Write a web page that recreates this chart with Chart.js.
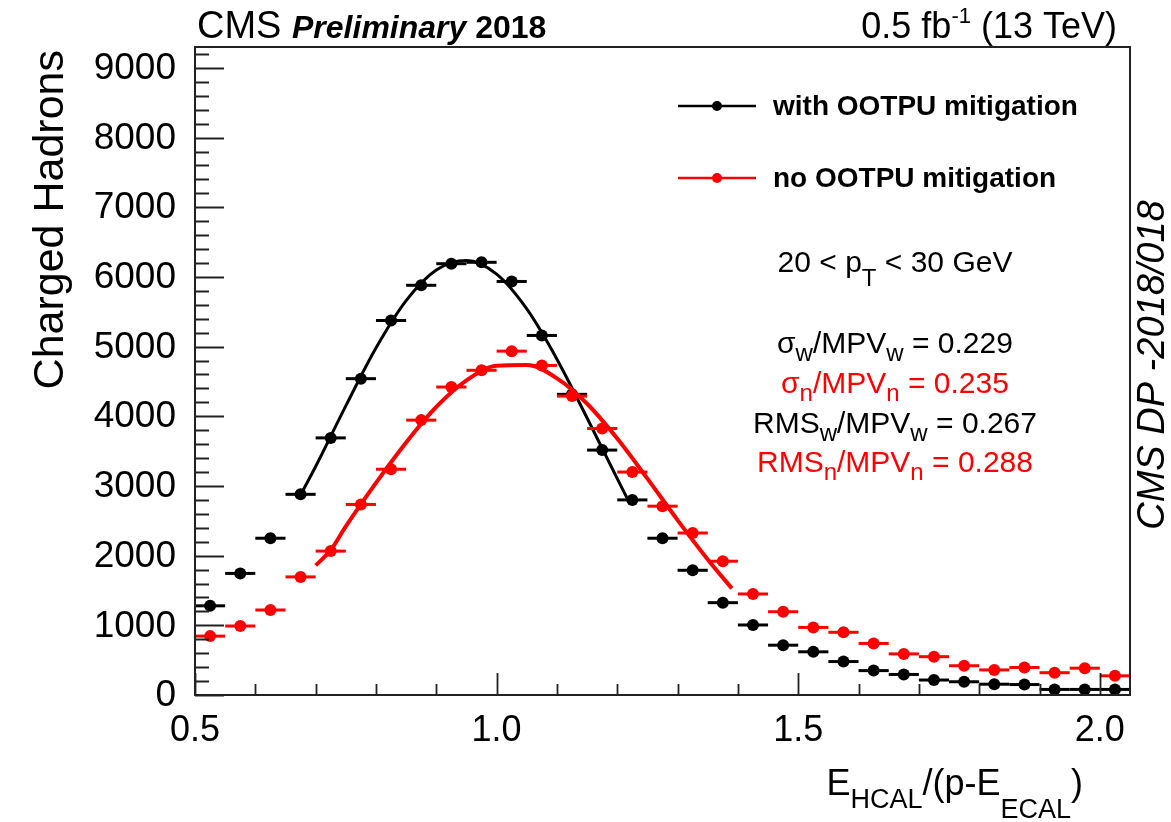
<!DOCTYPE html>
<html>
<head>
<meta charset="utf-8">
<script src="https://cdn.jsdelivr.net/npm/chart.js@4.4.1/dist/chart.umd.min.js"></script>
<style>
  html, body { margin: 0; padding: 0; background: #fff; }
  #wrap { width: 1171px; height: 822px; }
</style>
</head>
<body>
<div id="wrap"><canvas id="hadrons" width="1171" height="822"></canvas></div>
<script>
// bin centres, bins are 0.05 wide
const binCenters = [0.525, 0.575, 0.625, 0.675, 0.725, 0.775, 0.825, 0.875, 0.925, 0.975,
  1.025, 1.075, 1.125, 1.175, 1.225, 1.275, 1.325, 1.375, 1.425, 1.475,
  1.525, 1.575, 1.625, 1.675, 1.725, 1.775, 1.825, 1.875, 1.925, 1.975, 2.025];

const withMitigation = [1280, 1745, 2250, 2880, 3690, 4540, 5375, 5880, 6190, 6210,
  5935, 5160, 4315, 3515, 2800, 2250, 1790, 1325, 1005, 715,
  620, 480, 350, 295, 215, 190, 155, 150, 80, 80, 80];

const noMitigation = [845, 990, 1220, 1695, 2065, 2735, 3240, 3945, 4420, 4660,
  4935, 4730, 4290, 3825, 3200, 2710, 2325, 1920, 1450, 1195,
  970, 900, 740, 590, 550, 420, 360, 395, 320, 385, 275];

// fitted curves
const fitWithX = [0.675, 0.70, 0.75, 0.80, 0.85, 0.90, 0.95, 1.00, 1.05, 1.10, 1.15, 1.20, 1.22];
const fitWithY = [2870, 3280, 4150, 4980, 5660, 6100, 6235, 6040, 5540, 4820, 3975, 3105, 2760];

const fitNoX = [0.70, 0.725, 0.75, 0.80, 0.85, 0.90, 0.95, 1.00, 1.05, 1.10, 1.15, 1.20, 1.25, 1.30, 1.35, 1.39];
const fitNoY = [1860, 2080, 2420, 3045, 3625, 4135, 4515, 4725, 4735, 4545, 4180, 3680, 3105, 2510, 1945, 1530];

const yTicks = [0, 1000, 2000, 3000, 4000, 5000, 6000, 7000, 8000, 9000];
const xTicks = [0.5, 1.0, 1.5, 2.0];
const BIN_HALF = 0.025;

const FONT = '"Liberation Sans", Helvetica, Arial, sans-serif';
const RED = '#ff0000';
const BLACK = '#000000';

const pts = (xs, ys) => xs.map((x, i) => ({ x, y: ys[i] }));
const segFont = (s) => `${s.style || ''} ${s.weight || ''} ${s.size}px ${FONT}`;

function drawRich(ctx, x, y, segs, align, color) {
  ctx.save();
  ctx.fillStyle = color;
  ctx.textBaseline = 'alphabetic';
  ctx.textAlign = 'left';
  let total = 0;
  const widths = segs.map((s) => {
    ctx.font = segFont(s);
    const w = ctx.measureText(s.t).width;
    total += w;
    return w;
  });
  let cx = align === 'center' ? x - total / 2 : align === 'right' ? x - total : x;
  segs.forEach((s, i) => {
    ctx.font = segFont(s);
    ctx.fillText(s.t, cx, y + (s.dy || 0));
    cx += widths[i];
  });
  ctx.restore();
}

const errorBars = {
  id: 'errorBars',
  afterDatasetDraw(chart, args) {
    const ds = chart.data.datasets[args.index];
    if (!ds.errorBars) return;
    const { ctx, scales: { x, y }, chartArea } = chart;
    ctx.save();
    ctx.beginPath();
    ctx.rect(chartArea.left, chartArea.top, chartArea.width, chartArea.height);
    ctx.clip();
    ctx.strokeStyle = ds.pointBackgroundColor;
    ctx.lineWidth = 3;
    ds.data.forEach((p) => {
      const py = y.getPixelForValue(p.y);
      ctx.beginPath();
      ctx.moveTo(x.getPixelForValue(p.x - BIN_HALF), py);
      ctx.lineTo(x.getPixelForValue(p.x + BIN_HALF), py);
      ctx.stroke();
    });
    ctx.restore();
  },
};

const rootFrame = {
  id: 'rootFrame',
  afterDraw(chart) {
    const { ctx, scales: { x, y }, chartArea: a } = chart;
    ctx.save();

    // frame
    ctx.strokeStyle = '#222';
    ctx.lineWidth = 2;
    ctx.strokeRect(a.left, a.top, a.right - a.left, a.bottom - a.top);

    // inward ticks
    ctx.lineWidth = 1.8;
    ctx.beginPath();
    for (let v = 0; v <= y.max; v += 200) {
      const py = Math.round(y.getPixelForValue(v)) + 0.5;
      const len = v % 1000 === 0 ? 29 : 14;
      ctx.moveTo(a.left, py);
      ctx.lineTo(a.left + len, py);
    }
    for (let k = 5; k <= 20; k++) {
      const px = Math.round(x.getPixelForValue(k / 10)) + 0.5;
      const len = k % 5 === 0 ? 22 : 11;
      ctx.moveTo(px, a.bottom);
      ctx.lineTo(px, a.bottom - len);
    }
    ctx.stroke();

    // tick labels
    ctx.fillStyle = BLACK;
    ctx.font = `37px ${FONT}`;
    ctx.textAlign = 'right';
    ctx.textBaseline = 'middle';
    yTicks.forEach((v) => ctx.fillText(String(v), 176, y.getPixelForValue(v) + 1));
    ctx.font = `36px ${FONT}`;
    ctx.textAlign = 'center';
    ctx.textBaseline = 'alphabetic';
    xTicks.forEach((v) => ctx.fillText(v.toFixed(1), x.getPixelForValue(v), 741));

    // axis titles
    drawRich(ctx, 1083, 795, [
      { t: 'E', size: 36 },
      { t: 'HCAL', size: 27, dy: 13 },
      { t: '/(p-E', size: 36 },
      { t: 'ECAL', size: 27, dy: 23 },
      { t: ')', size: 36 },
    ], 'right', BLACK);

    ctx.save();
    ctx.translate(63, 50);
    ctx.rotate(-Math.PI / 2);
    ctx.font = `43px ${FONT}`;
    ctx.textAlign = 'right';
    ctx.textBaseline = 'alphabetic';
    ctx.fillText('Charged Hadrons', 0, 0);
    ctx.restore();

    // header
    drawRich(ctx, 197, 38, [
      { t: 'CMS ', size: 38 },
      { t: 'Preliminary', size: 32, weight: 'bold', style: 'italic' },
      { t: ' 2018', size: 32, weight: 'bold' },
    ], 'left', BLACK);
    drawRich(ctx, 1117, 38, [
      { t: '0.5 fb', size: 36 },
      { t: '-1', size: 22, dy: -15 },
      { t: ' (13 TeV)', size: 36 },
    ], 'right', BLACK);

    // side label
    ctx.save();
    ctx.translate(1164, 365);
    ctx.rotate(-Math.PI / 2);
    ctx.font = `italic 38px ${FONT}`;
    ctx.textAlign = 'center';
    ctx.fillText('CMS DP -2018/018', 0, 0);
    ctx.restore();

    // legend
    [[106, 115, BLACK, 'with OOTPU mitigation'], [178, 187, RED, 'no OOTPU mitigation']].forEach(([ly, by, col, txt]) => {
      ctx.strokeStyle = col;
      ctx.fillStyle = col;
      ctx.lineWidth = 2.5;
      ctx.beginPath();
      ctx.moveTo(678, ly);
      ctx.lineTo(756, ly);
      ctx.stroke();
      ctx.beginPath();
      ctx.arc(717, ly, 5, 0, Math.PI * 2);
      ctx.fill();
      ctx.fillStyle = BLACK;
      ctx.font = `bold 28px ${FONT}`;
      ctx.textAlign = 'left';
      ctx.fillText(txt, 773, by);
    });

    // fit summary
    const cx = 895;
    drawRich(ctx, cx, 272, [
      { t: '20 < p', size: 30 }, { t: 'T', size: 24, dy: 14 }, { t: ' < 30 GeV', size: 30 },
    ], 'center', BLACK);
    drawRich(ctx, cx, 353, [
      { t: 'σ', size: 30 }, { t: 'w', size: 24, dy: 8 }, { t: '/MPV', size: 30 },
      { t: 'w', size: 24, dy: 8 }, { t: ' = 0.229', size: 30 },
    ], 'center', BLACK);
    drawRich(ctx, cx, 393, [
      { t: 'σ', size: 30 }, { t: 'n', size: 24, dy: 8 }, { t: '/MPV', size: 30 },
      { t: 'n', size: 24, dy: 8 }, { t: ' = 0.235', size: 30 },
    ], 'center', RED);
    drawRich(ctx, cx, 433, [
      { t: 'RMS', size: 30 }, { t: 'w', size: 24, dy: 8 }, { t: '/MPV', size: 30 },
      { t: 'w', size: 24, dy: 8 }, { t: ' = 0.267', size: 30 },
    ], 'center', BLACK);
    drawRich(ctx, cx, 472, [
      { t: 'RMS', size: 30 }, { t: 'n', size: 24, dy: 8 }, { t: '/MPV', size: 30 },
      { t: 'n', size: 24, dy: 8 }, { t: ' = 0.288', size: 30 },
    ], 'center', RED);

    ctx.restore();
  },
};

new Chart(document.getElementById('hadrons'), {
  type: 'line',
  data: {
    datasets: [
      {
        label: 'no OOTPU fit',
        data: pts(fitNoX, fitNoY),
        borderColor: RED,
        borderWidth: 4,
        pointRadius: 0,
        cubicInterpolationMode: 'monotone',
        fill: false,
      },
      {
        label: 'no OOTPU mitigation',
        data: pts(binCenters, noMitigation),
        showLine: false,
        pointRadius: 6,
        pointBackgroundColor: RED,
        pointBorderColor: RED,
        pointBorderWidth: 0,
        errorBars: true,
      },
      {
        label: 'with OOTPU fit',
        data: pts(fitWithX, fitWithY),
        borderColor: BLACK,
        borderWidth: 3,
        pointRadius: 0,
        cubicInterpolationMode: 'monotone',
        fill: false,
      },
      {
        label: 'with OOTPU mitigation',
        data: pts(binCenters, withMitigation),
        showLine: false,
        pointRadius: 6,
        pointBackgroundColor: BLACK,
        pointBorderColor: BLACK,
        pointBorderWidth: 0,
        errorBars: true,
      },
    ],
  },
  options: {
    responsive: false,
    devicePixelRatio: 1,
    animation: false,
    layout: { padding: { top: 47, right: 41, left: 0, bottom: 0 } },
    scales: {
      x: {
        type: 'linear',
        min: 0.5,
        max: 2.05,
        grid: { display: false },
        border: { display: false },
        ticks: { display: false },
        afterFit: (s) => { s.height = 127; },
      },
      y: {
        min: 0,
        max: 9300,
        grid: { display: false },
        border: { display: false },
        ticks: { display: false },
        afterFit: (s) => { s.width = 195; },
      },
    },
    plugins: {
      legend: { display: false },
      tooltip: { enabled: false },
    },
  },
  plugins: [errorBars, rootFrame],
});
</script>
</body>
</html>
